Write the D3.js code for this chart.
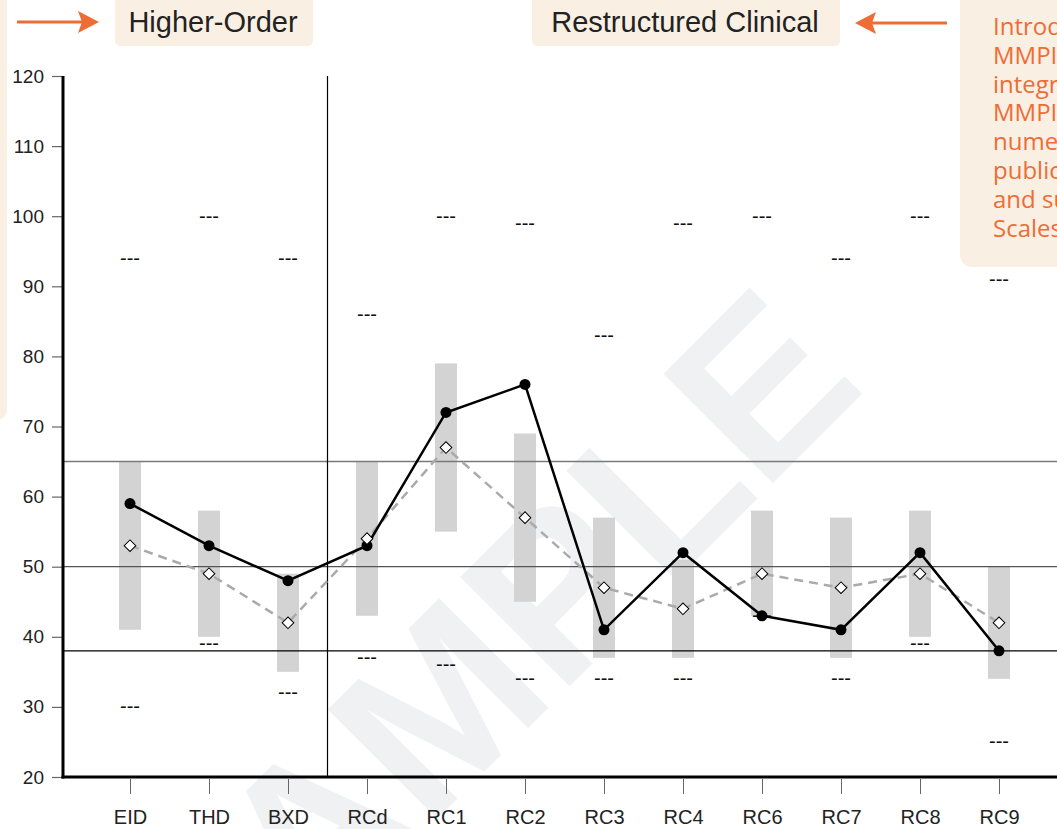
<!DOCTYPE html>
<html>
<head>
<meta charset="utf-8">
<script src="https://cdn.jsdelivr.net/npm/d3@7"></script>
<style>
  html, body { margin: 0; padding: 0; background: #fff; overflow: hidden; }
  svg { display: block; }
</style>
</head>
<body>
<svg id="chart" width="1057" height="829"></svg>
<script>
// ---------------- data ----------------
const categories = ["EID", "THD", "BXD", "RCd", "RC1", "RC2", "RC3", "RC4", "RC6", "RC7", "RC8", "RC9"];
const scoreValues = [59, 53, 48, 53, 72, 76, 41, 52, 43, 41, 52, 38];
const comparisonValues = [53, 49, 42, 54, 67, 57, 47, 44, 49, 47, 49, 42];
const rangeLow = [41, 40, 35, 43, 55, 45, 37, 37, 43, 37, 40, 34];
const rangeHigh = [65, 58, 49, 65, 79, 69, 57, 51, 58, 57, 58, 50];
const upperMarks = [94, 100, 94, 86, 100, 99, 83, 99, 100, 94, 100, 91];
const lowerMarks = [30, 39, 32, 37, 36, 34, 34, 34, 43, 34, 39, 25];
const referenceLines = [65, 50, 38];
const yTicks = [20, 30, 40, 50, 60, 70, 80, 90, 100, 110, 120];
const groupLabels = ["Higher-Order", "Restructured Clinical"];
const noteLines = ["Introd", "MMPI", "integr", "MMPI", "nume", "public", "and su", "Scales"];
const watermarkText = "SAMPLE";

// ---------------- layout ----------------
const W = 1057, H = 829;
const axisX = 63, axisBottom = 777, axisTop = 76;
const orange = "#ef6c35", beige = "#f9f0e3";

const svg = d3.select("#chart");

const x = d3.scalePoint().domain(categories).range([130, 999]);
const y = d3.scaleLinear().domain([20, 120]).range([axisBottom, axisTop]);

// watermark
svg.append("text")
  .attr("transform", "translate(537,719) rotate(-45)")
  .attr("text-anchor", "middle")
  .attr("font-family", "Liberation Sans, Arial, sans-serif")
  .attr("font-weight", "bold")
  .attr("font-size", 225)
  .attr("fill", "#f0f1f3")
  .text(watermarkText);

// left beige panel edge
svg.append("rect").attr("x", -30).attr("y", -20).attr("width", 37).attr("height", 440)
  .attr("rx", 10).attr("fill", beige);

// top-right note box
svg.append("rect").attr("x", 960).attr("y", -20).attr("width", 140).attr("height", 287)
  .attr("rx", 12).attr("fill", beige);
svg.append("g").selectAll("text").data(noteLines).join("text")
  .attr("x", 993)
  .attr("y", (d, i) => 35 + i * 28.8)
  .attr("font-family", "Open Sans, sans-serif")
  .attr("font-size", 24)
  .attr("fill", orange)
  .text(d => d);

// group labels
const labelBoxes = [
  { x: 115, w: 198, cx: 213 },
  { x: 532, w: 308, cx: 685 }
];
labelBoxes.forEach((b, i) => {
  svg.append("rect").attr("x", b.x).attr("y", -10).attr("width", b.w).attr("height", 56)
    .attr("rx", 5).attr("fill", beige);
  svg.append("text").attr("x", b.cx).attr("y", 32)
    .attr("text-anchor", "middle")
    .attr("font-family", "Liberation Sans, Arial, sans-serif")
    .attr("font-size", 29)
    .attr("fill", "#222")
    .text(groupLabels[i]);
});

// arrows
function arrow(x1, x2, yy) {
  const dir = Math.sign(x2 - x1);
  const headLen = 21, notch = 4, half = 11;
  svg.append("line").attr("x1", x1).attr("y1", yy).attr("x2", x2 - dir * (headLen - notch)).attr("y2", yy)
    .attr("stroke", orange).attr("stroke-width", 3);
  const p = d3.path();
  p.moveTo(x2, yy);
  p.lineTo(x2 - dir * headLen, yy - half);
  p.lineTo(x2 - dir * (headLen - notch), yy);
  p.lineTo(x2 - dir * headLen, yy + half);
  p.closePath();
  svg.append("path").attr("d", p.toString()).attr("fill", orange);
}
arrow(17, 99, 22);
arrow(947, 855, 23);

// range bars
const barW = 22;
svg.append("g").selectAll("rect").data(categories).join("rect")
  .attr("x", d => x(d) - barW / 2)
  .attr("y", (d, i) => y(rangeHigh[i]))
  .attr("width", barW)
  .attr("height", (d, i) => y(rangeLow[i]) - y(rangeHigh[i]))
  .attr("fill", "#d3d3d3");

// reference lines
const refStyles = [{ c: "#7a7a7a", w: 1.6 }, { c: "#555", w: 1.2 }, { c: "#000", w: 1.2 }];
svg.append("g").selectAll("line").data(referenceLines).join("line")
  .attr("x1", axisX).attr("x2", W)
  .attr("y1", d => y(d)).attr("y2", d => y(d))
  .attr("stroke", (d, i) => refStyles[i].c)
  .attr("stroke-width", (d, i) => refStyles[i].w);

// separator between groups
const sepX = (x("BXD") + x("RCd")) / 2;
svg.append("line").attr("x1", sepX).attr("x2", sepX).attr("y1", axisTop).attr("y2", axisBottom)
  .attr("stroke", "#000").attr("stroke-width", 1.2);

// marker dashes
[upperMarks, lowerMarks].forEach(arr => {
  svg.append("g").selectAll("text").data(categories).join("text")
    .attr("x", d => x(d))
    .attr("y", (d, i) => y(arr[i]) + 6.5)
    .attr("text-anchor", "middle")
    .attr("font-family", "Liberation Sans, Arial, sans-serif")
    .attr("font-size", 20)
    .attr("fill", "#111")
    .text("---");
});

// y axis
const yAxis = d3.axisLeft(y).tickValues(yTicks).tickSize(11).tickPadding(8);
const gy = svg.append("g").attr("transform", `translate(${axisX},0)`).call(yAxis);
gy.select(".domain").remove();
gy.selectAll(".tick line").attr("stroke", "#666").attr("stroke-width", 1.2);
gy.selectAll(".tick text").attr("font-family", "Liberation Sans, Arial, sans-serif")
  .attr("font-size", 19).attr("fill", "#222");

// x axis
const xAxis = d3.axisBottom(x).tickSize(15).tickPadding(16);
const gx = svg.append("g").attr("transform", `translate(0,${axisBottom + 2})`).call(xAxis);
gx.select(".domain").remove();
gx.selectAll(".tick line").attr("stroke", "#666").attr("stroke-width", 1);
gx.selectAll(".tick text").attr("font-family", "Liberation Sans, Arial, sans-serif")
  .attr("font-size", 20).attr("fill", "#222");

// thick axis lines
svg.append("line").attr("x1", axisX).attr("x2", axisX).attr("y1", axisTop).attr("y2", axisBottom + 1.5)
  .attr("stroke", "#000").attr("stroke-width", 3);
svg.append("line").attr("x1", axisX - 1.5).attr("x2", W).attr("y1", axisBottom).attr("y2", axisBottom)
  .attr("stroke", "#000").attr("stroke-width", 3);

// comparison (dashed) line
const seriesLine = d3.line().x((d, i) => x(categories[i])).y(d => y(d));
svg.append("path").datum(comparisonValues).attr("d", seriesLine)
  .attr("fill", "none").attr("stroke", "#aaa").attr("stroke-width", 2.5)
  .attr("stroke-dasharray", "9,6");

// score (solid) line
svg.append("path").datum(scoreValues).attr("d", seriesLine)
  .attr("fill", "none").attr("stroke", "#000").attr("stroke-width", 2.5);

// circles
svg.append("g").selectAll("circle").data(scoreValues).join("circle")
  .attr("cx", (d, i) => x(categories[i]))
  .attr("cy", d => y(d))
  .attr("r", 5.5)
  .attr("fill", "#000");

// diamonds
svg.append("g").selectAll("path").data(comparisonValues).join("path")
  .attr("transform", (d, i) => `translate(${x(categories[i])},${y(d)}) rotate(45)`)
  .attr("d", d3.symbol().type(d3.symbolSquare).size(68))
  .attr("fill", "#fff").attr("stroke", "#000").attr("stroke-width", 1);
</script>
</body>
</html>
